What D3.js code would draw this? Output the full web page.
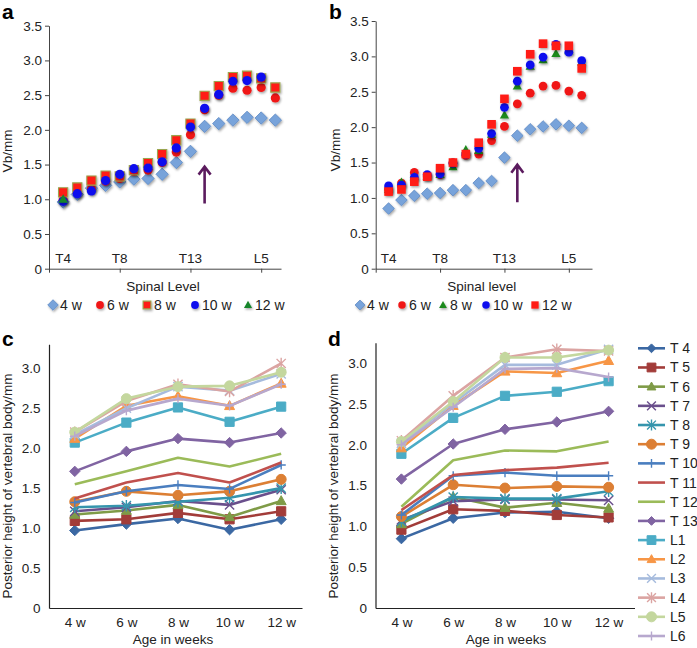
<!DOCTYPE html>
<html><head><meta charset="utf-8">
<script src="https://cdn.jsdelivr.net/npm/d3@7"></script>
<style>
body{margin:0;background:#fff}
svg{display:block}
text{font-family:"Liberation Sans",Arial,Helvetica,sans-serif;fill:#222}
</style></head>
<body><svg id="chart" width="697" height="648"></svg>
<script>
// ---------------- DATA ----------------
const levels = ["T4","T5","T6","T7","T8","T9","T10","T11","T12","T13","L1","L2","L3","L4","L5","L6"];
const levelTickLabels = ["T4","T8","T13","L5"];
const weeks = ["4 w","6 w","8 w","10 w","12 w"];
const yTicksAB = [0,0.5,1,1.5,2,2.5,3,3.5];
const yTicksCD = [0,0.5,1,1.5,2,2.5,3];
const xTicksAB = [0,5,10,15];
const arrowLevel = "L1";

// panel a (Vb/mm by spinal level)
const a4w  = [0.96,1.07,1.16,1.20,1.25,1.29,1.30,1.36,1.53,1.69,2.05,2.09,2.14,2.18,2.17,2.14];
const a6w  = [0.99,1.09,1.15,1.26,1.30,1.40,1.42,1.53,1.68,1.93,2.29,2.50,2.60,2.57,2.61,2.46];
const a8w  = [1.10,1.17,1.27,1.34,1.33,1.42,1.52,1.65,1.85,2.09,2.49,2.63,2.76,2.78,2.74,2.61];
const a10w = [0.97,1.08,1.12,1.27,1.36,1.44,1.45,1.54,1.74,2.04,2.31,2.51,2.70,2.71,2.76,null];
const a12w = [1.00,null,null,null,null,null,null,null,null,null,null,null,null,null,null,null];

// panel b
const b4w  = [0.85,0.97,1.03,1.06,1.07,1.11,1.11,1.21,1.24,1.57,1.88,1.97,2.01,2.04,2.02,1.99];
const b6w  = [1.12,1.21,1.36,1.31,1.33,1.50,1.60,1.62,1.81,2.01,2.33,2.48,2.58,2.59,2.51,2.45];
const b8w  = [1.12,1.22,1.30,1.31,1.33,1.44,1.68,1.67,1.90,2.17,2.58,2.86,2.95,3.04,3.08,2.92];
const b10w = [1.17,1.18,1.29,1.33,1.34,1.49,1.62,1.70,1.91,2.28,2.65,2.88,2.99,3.17,3.06,2.94];
const b12w = [1.09,1.12,1.23,1.30,1.42,1.50,1.62,1.78,2.04,2.40,2.79,3.03,3.18,3.15,3.15,2.83];

// panel c: rows = levels (T4..L6), columns = weeks
const cValues = [
  [0.97,1.05,1.12,0.98,1.11],
  [1.09,1.11,1.19,1.11,1.21],
  [1.17,1.22,1.29,1.14,1.34],
  [1.21,1.26,1.34,1.29,1.48],
  [1.26,1.28,1.33,1.38,1.50],
  [1.33,1.46,1.41,1.46,1.61],
  [1.32,1.46,1.54,1.49,1.79],
  [1.37,1.57,1.69,1.57,1.82],
  [1.55,1.71,1.88,1.77,1.93],
  [1.71,1.96,2.12,2.07,2.19],
  [2.07,2.32,2.51,2.33,2.52],
  [2.12,2.53,2.65,2.53,2.81],
  [2.17,2.50,2.77,2.72,2.93],
  [2.20,2.59,2.80,2.71,3.06],
  [2.20,2.62,2.77,2.78,2.95],
  [2.15,2.47,2.62,2.53,2.80]
];
// panel d
const dValues = [
  [0.85,1.10,1.17,1.18,1.10],
  [0.96,1.21,1.19,1.14,1.11],
  [1.03,1.36,1.23,1.29,1.22],
  [1.08,1.31,1.33,1.33,1.32],
  [1.06,1.36,1.34,1.34,1.43],
  [1.12,1.51,1.47,1.49,1.48],
  [1.14,1.62,1.66,1.62,1.62],
  [1.20,1.63,1.69,1.72,1.78],
  [1.24,1.81,1.93,1.92,2.04],
  [1.58,2.01,2.19,2.28,2.41],
  [1.89,2.33,2.60,2.65,2.78],
  [1.96,2.48,2.90,2.88,3.03],
  [2.02,2.51,2.98,2.98,3.17],
  [2.05,2.60,3.07,3.17,3.15],
  [2.04,2.53,3.07,3.07,3.16],
  [2.00,2.46,2.93,2.94,2.83]
];
const lineLegendLabels = ["T 4","T 5","T 6","T 7","T 8","T 9","T 10","T 11","T 12","T 13","L1","L2","L3","L4","L5","L6"];
const lineColors = ["#3b68a3","#a23c39","#7f9b47","#6a4f8c","#3595ad","#dc7f34","#4a7ebf","#c0504d","#9bbb59","#8064a2","#4bacc6","#f79646","#a6bbdd","#dba4a2","#c4d79e","#b7a8ce"];
const lineMarkers = ["diamond","square","triangle","x","asterisk","circle","plus","none","none","diamond","square","triangle","x","asterisk","circle","plus"];

// ---------------- DRAWING ----------------
const svg = d3.select("#chart");
const defs = svg.append("defs");
const flt = defs.append("filter").attr("id","shadow").attr("x","-60%").attr("y","-60%").attr("width","220%").attr("height","220%");
flt.append("feDropShadow").attr("dx",1).attr("dy",1.5).attr("stdDeviation",1).attr("flood-color","#000").attr("flood-opacity",0.35);

function markerPath(type, r){
  switch(type){
    case "diamond": return `M0,${-r}L${r},0L0,${r}L${-r},0Z`;
    case "square": return `M${-r},${-r}H${r}V${r}H${-r}Z`;
    case "triangle": return `M0,${-r*1.05}L${r},${r*0.75}L${-r},${r*0.75}Z`;
    case "circle": return d3.symbol(d3.symbolCircle, Math.PI*r*r)();
    case "x": return `M${-r},${-r}L${r},${r}M${-r},${r}L${r},${-r}`;
    case "asterisk": return `M${-r},${-r}L${r},${r}M${-r},${r}L${r},${-r}M0,${-r*1.25}V${r*1.25}`;
    case "plus": return `M${-r},0H${r}M0,${-r}V${r}`;
  }
  return "";
}
const openTypes = new Set(["x","asterisk","plus"]);
const fmt = d => d === 0 ? "0" : d3.format(".1f")(d);

function panelLabel(t, x, y){
  svg.append("text").attr("x",x).attr("y",y).attr("font-size",21).attr("font-weight","bold").style("fill","#000").text(t);
}

function styleAxis(sel){
  sel.select(".domain").attr("stroke","#444").attr("stroke-width",1);
  sel.selectAll(".tick line").attr("stroke","#444");
  sel.selectAll(".tick text").attr("font-size",13.5).style("fill","#222").attr("font-family",'"Liberation Sans",Arial,sans-serif');
}

function scatterPanel(cfg){
  const g = svg.append("g");
  const x = d3.scaleLinear().domain([0,cfg.xMax]).range([cfg.x0,cfg.x1]);
  const y = d3.scaleLinear().domain([0,3.5]).range([cfg.y0,cfg.yTop]);
  const ya = g.append("g").attr("transform",`translate(${cfg.x0},0)`)
    .call(d3.axisLeft(y).tickValues(yTicksAB).tickFormat(fmt).tickSizeInner(4).tickSizeOuter(0).tickPadding(3));
  styleAxis(ya);
  const xa = g.append("g").attr("transform",`translate(0,${cfg.y0})`)
    .call(d3.axisBottom(x).tickValues(xTicksAB).tickFormat("").tickSizeInner(4).tickSizeOuter(0));
  styleAxis(xa);
  // level labels inside plot
  g.selectAll(".lvl").data(levelTickLabels).join("text")
    .attr("x",d=>x(levels.indexOf(d)+1)).attr("y",cfg.y0-6)
    .attr("text-anchor","middle").attr("font-size",13.5).text(d=>d);
  // titles
  g.append("text").attr("x",(cfg.x0+cfg.x1)/2 - 2).attr("y",cfg.y0+22).attr("text-anchor","middle").attr("font-size",13.5).text(cfg.xTitle);
  g.append("text").attr("transform",`translate(${cfg.yTitleX},${cfg.yTitleY}) rotate(-90)`).attr("text-anchor","middle").attr("font-size",13.5).text("Vb/mm");
  // series
  cfg.series.forEach(s=>{
    const pts = s.vals.map((v,i)=>({x:i+1,v})).filter(d=>d.v!=null);
    g.append("g").attr("filter","url(#shadow)").selectAll("path").data(pts).join("path")
      .attr("transform",d=>`translate(${x(d.x)},${y(d.v)})`)
      .attr("d",markerPath(s.type,s.r))
      .attr("fill",s.fill).attr("stroke",s.stroke||"none").attr("stroke-width",s.sw||1);
  });
  // arrow
  const ax = x(levels.indexOf(arrowLevel)+1);
  const ay0 = y(0.94), ay1 = y(1.47);
  g.append("path").attr("d",`M${ax},${ay0}V${ay1}M${ax-6},${ay1+8}L${ax},${ay1}L${ax+6},${ay1+8}`)
    .attr("fill","none").attr("stroke","#5b1b5e").attr("stroke-width",2.6).attr("stroke-linejoin","miter");
  // legend
  cfg.series.forEach(s=>{
    const lg = g.append("g").attr("transform",`translate(${s.lx},${cfg.legY})`);
    lg.append("path").attr("d",markerPath(s.type,s.r*0.85)).attr("fill",s.fill).attr("stroke",s.stroke||"none").attr("stroke-width",s.sw||1).attr("filter","url(#shadow)");
    lg.append("text").attr("x",7).attr("y",5).attr("font-size",14).text(s.name);
  });
}

const diamondStyle = {type:"diamond",r:6.2,fill:"#78a3da",stroke:"#5d89c4",sw:0.8};
scatterPanel({
  x0:49,x1:281,xMax:16.4,y0:268.7,yTop:25.7,xTitle:"Spinal Level",yTitleX:12,yTitleY:151,legY:305,
  series:[
    Object.assign({name:"4 w",vals:a4w,lx:53},diamondStyle),
    {name:"6 w",vals:a6w,type:"circle",r:4.6,fill:"#f01818",lx:100},
    {name:"8 w",vals:a8w,type:"square",r:4.6,fill:"#ff1a12",stroke:"#9aa550",sw:1.1,lx:147},
    {name:"10 w",vals:a10w,type:"circle",r:4.6,fill:"#1010ee",lx:195},
    {name:"12 w",vals:a12w,type:"triangle",r:4.8,fill:"#16852a",lx:248}
  ]
});
scatterPanel({
  x0:375.7,x1:592,xMax:16.8,y0:268.7,yTop:21,xTitle:"Spinal level",yTitleX:340,yTitleY:150,legY:305,
  series:[
    Object.assign({name:"4 w",vals:b4w,lx:360},diamondStyle,{r:5.8}),
    {name:"6 w",vals:b6w,type:"circle",r:4.4,fill:"#f01818",lx:402},
    {name:"8 w",vals:b8w,type:"triangle",r:4.6,fill:"#1f8a1f",lx:443},
    {name:"10 w",vals:b10w,type:"circle",r:4.4,fill:"#1010ee",lx:486},
    {name:"12 w",vals:b12w,type:"square",r:4.3,fill:"#ff1a12",lx:535}
  ]
});

function linePanel(cfg){
  const g = svg.append("g");
  const x = d3.scalePoint().domain(weeks).range([cfg.x0,cfg.x1]).padding(cfg.pad).align(cfg.align);
  const y = d3.scaleLinear().domain([0,cfg.yMax]).range([cfg.y0,cfg.yTop]);
  const ya = g.append("g").attr("transform",`translate(${cfg.x0},0)`)
    .call(d3.axisLeft(y).tickValues(yTicksCD).tickFormat(fmt).tickSizeInner(0).tickSizeOuter(0).tickPadding(8.5));
  styleAxis(ya);
  ya.select(".domain").attr("stroke","#222").attr("stroke-width",1.2);
  const xa = g.append("g").attr("transform",`translate(0,${cfg.y0})`)
    .call(d3.axisBottom(x).tickSizeInner(0).tickSizeOuter(0).tickPadding(9));
  styleAxis(xa);
  xa.select(".domain").attr("stroke","#222").attr("stroke-width",1.2);
  g.append("text").attr("x",cfg.titleX).attr("y",cfg.y0+36).attr("text-anchor","middle").attr("font-size",13.5).text("Age in weeks");
  g.append("text").attr("transform",`translate(${cfg.yTitleX},${cfg.yTitleY}) rotate(-90)`).attr("text-anchor","middle").attr("font-size",13.5).text("Posterior height of vertebral body/mm");
  const line = d3.line().x((d,i)=>x(weeks[i])).y(d=>y(d));
  cfg.values.forEach((vals,k)=>{
    const col = lineColors[k], mt = lineMarkers[k];
    const sg = g.append("g");
    sg.append("path").attr("d",line(vals)).attr("fill","none").attr("stroke",col).attr("stroke-width",2.6).attr("stroke-linejoin","round");
    if(mt!=="none"){
      const r = mt==="circle"?5:(mt==="square"?4.6:(mt==="triangle"?5:(mt==="diamond"?5.2:4.6)));
      sg.selectAll("path.m").data(vals).join("path").attr("class","m")
        .attr("transform",(d,i)=>`translate(${x(weeks[i])},${y(d)})`)
        .attr("d",markerPath(mt,r))
        .attr("fill",openTypes.has(mt)?"none":col)
        .attr("stroke",col).attr("stroke-width",openTypes.has(mt)?1.4:1);
    }
  });
}
linePanel({x0:49,x1:302,pad:0.4516,align:0.553,y0:608,yTop:344.3,yMax:3.3,values:cValues,yTitleX:12,yTitleY:486,titleX:173});
linePanel({x0:375.5,x1:634.5,pad:0.5,align:0.5,y0:608,yTop:342.8,yMax:3.25,values:dValues,yTitleX:338,yTitleY:486,titleX:506});

// legend for c/d
const lg = svg.append("g");
lineLegendLabels.forEach((lab,k)=>{
  const yy = 348.3 + k*19.18;
  const row = lg.append("g").attr("transform",`translate(638,${yy})`);
  row.append("line").attr("x1",0).attr("x2",27).attr("stroke",lineColors[k]).attr("stroke-width",2.6);
  const mt = lineMarkers[k];
  if(mt!=="none"){
    row.append("path").attr("transform","translate(13.5,0)").attr("d",markerPath(mt,mt==="circle"?5:4.4))
      .attr("fill",openTypes.has(mt)?"none":lineColors[k]).attr("stroke",lineColors[k]).attr("stroke-width",openTypes.has(mt)?1.4:1);
  }
  row.append("text").attr("x",32).attr("y",5).attr("font-size",14).text(lab);
});

panelLabel("a",2,19);
panelLabel("b",329,19);
panelLabel("c",2,346);
panelLabel("d",328,346);
</script></body></html>
